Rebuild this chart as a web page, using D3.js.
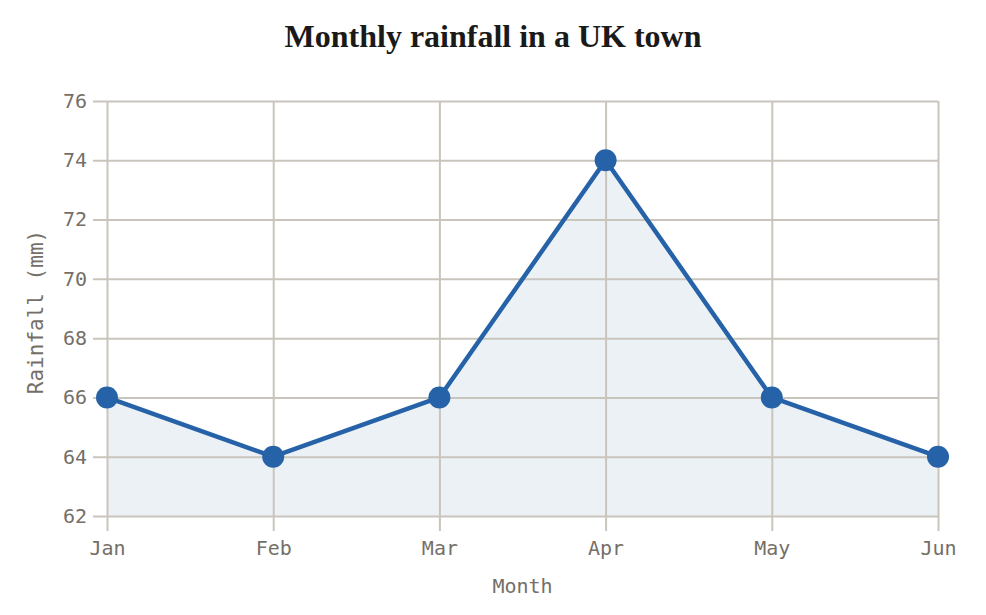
<!DOCTYPE html>
<html>
<head>
<meta charset="utf-8">
<script src="https://cdn.jsdelivr.net/npm/d3@7"></script>
<style>
  body { margin: 0; background: #fff; }
  .tick text { font-family: "DejaVu Sans Mono", monospace; font-size: 20px; fill: #756f68; }
  .axis-title { font-family: "DejaVu Sans Mono", monospace; fill: #756f68; }
</style>
</head>
<body>
<svg id="chart" width="986" height="615"></svg>
<script>
const months = ["Jan", "Feb", "Mar", "Apr", "May", "Jun"];
const rainfall = [66, 64, 66, 74, 66, 64];
const yTicks = [62, 64, 66, 68, 70, 72, 74, 76];

const width = 986, height = 615;
const margin = { top: 101, right: 48, bottom: 99, left: 107 };
const gridColor = "#c9c5bd";

const svg = d3.select("#chart");

const x = d3.scalePoint().domain(months).range([margin.left, width - margin.right]);
const y = d3.scaleLinear().domain([62, 76]).range([height - margin.bottom, margin.top]);

// title
svg.append("text")
  .attr("x", width / 2)
  .attr("y", 47)
  .attr("text-anchor", "middle")
  .style("font-family", "'Liberation Serif', serif")
  .style("font-weight", "bold")
  .style("font-size", "32px")
  .style("fill", "#1a1a1a")
  .text("Monthly rainfall in a UK town");

// area under the line
const area = d3.area()
  .x((d, i) => x(months[i]))
  .y0(y(62))
  .y1((d) => y(d));

svg.append("path")
  .datum(rainfall)
  .attr("fill", "#ecf1f6")
  .attr("d", area);

// y axis with gridlines
const yAxis = svg.append("g")
  .attr("transform", `translate(${margin.left},0)`)
  .call(d3.axisLeft(y).tickValues(yTicks).tickSize(14).tickPadding(6))
  .call((g) => g.select(".domain").remove());
yAxis.selectAll(".tick line")
  .attr("x1", width - margin.right - margin.left)
  .attr("x2", -14)
  .attr("stroke", gridColor)
  .attr("stroke-width", 2);

// x axis with gridlines
const xAxis = svg.append("g")
  .attr("transform", `translate(0,${height - margin.bottom})`)
  .call(d3.axisBottom(x).tickSize(15).tickPadding(10))
  .call((g) => g.select(".domain").remove());
xAxis.selectAll(".tick line")
  .attr("y1", -(height - margin.bottom - margin.top))
  .attr("y2", 15)
  .attr("stroke", gridColor)
  .attr("stroke-width", 2);

// line
const line = d3.line()
  .x((d, i) => x(months[i]))
  .y((d) => y(d));

svg.append("path")
  .datum(rainfall)
  .attr("fill", "none")
  .attr("stroke", "#2662a8")
  .attr("stroke-width", 4.5)
  .attr("stroke-linejoin", "round")
  .attr("d", line);

svg.selectAll("circle.dot")
  .data(rainfall)
  .join("circle")
  .attr("class", "dot")
  .attr("cx", (d, i) => x(months[i]))
  .attr("cy", (d) => y(d))
  .attr("r", 11)
  .attr("fill", "#2662a8");

// axis titles
svg.append("text")
  .attr("class", "axis-title")
  .attr("x", (margin.left + width - margin.right) / 2)
  .attr("y", 593)
  .attr("text-anchor", "middle")
  .style("font-size", "20px")
  .text("Month");

svg.append("text")
  .attr("class", "axis-title")
  .attr("transform", "translate(43,312) rotate(-90)")
  .attr("text-anchor", "middle")
  .style("font-size", "21px")
  .text("Rainfall (mm)");
</script>
</body>
</html>
